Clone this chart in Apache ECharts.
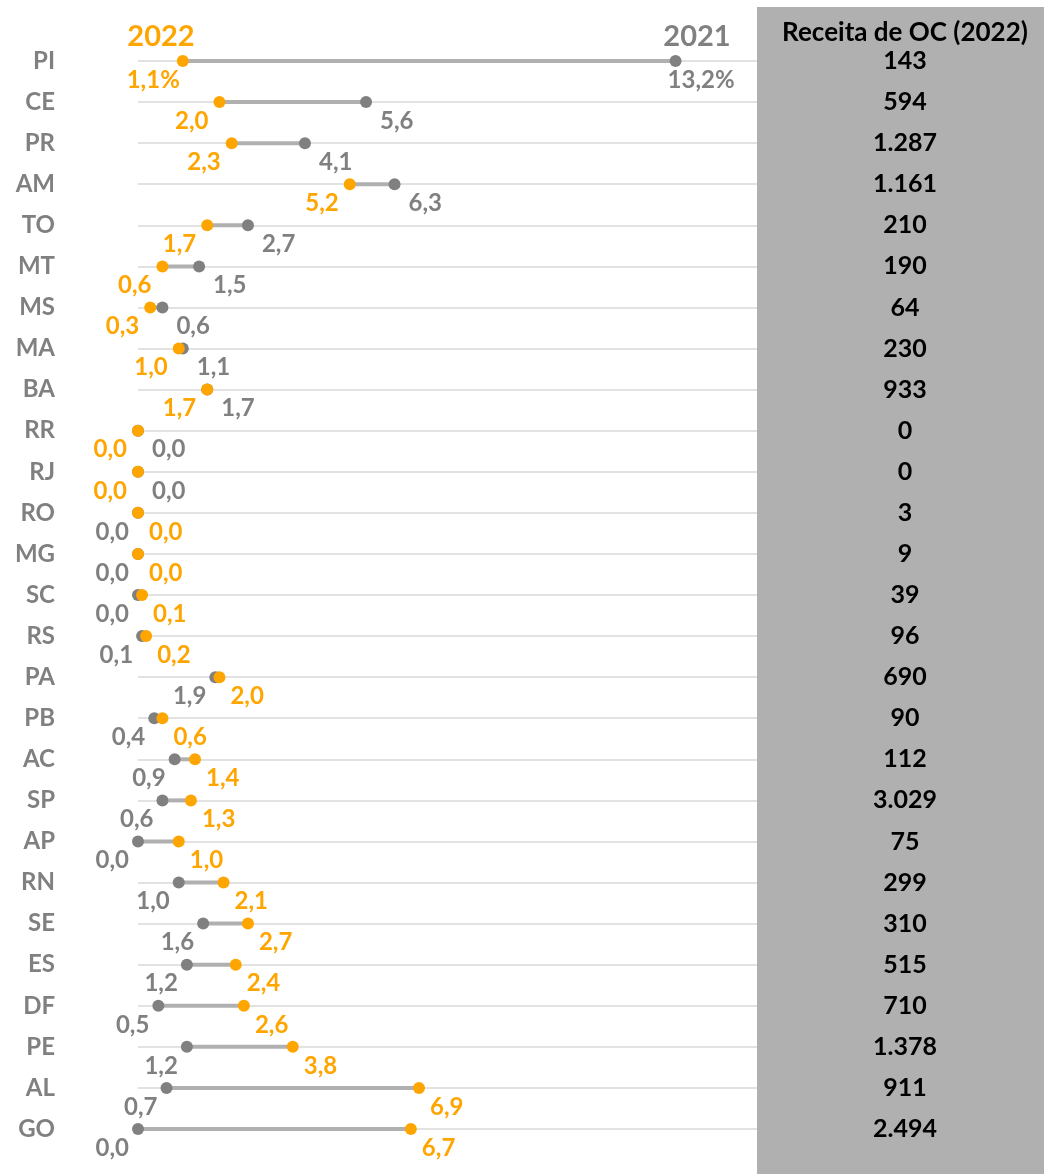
<!DOCTYPE html>
<html>
<head>
    <meta charset="utf-8">
    <title></title>
    <style type="text/css">
        body { margin: 0; background: #fff; }
    </style>
</head>
<body>
<div id="main" style="width: 1044px;height:1174px;"></div>

<script type="text/javascript" src="https://cdn.jsdelivr.net/npm/echarts@6/dist/echarts.min.js"></script>
<script type="text/javascript">
    var estados = ['PI','CE','PR','AM','TO','MT','MS','MA','BA','RR','RJ','RO','MG','SC','RS','PA','PB','AC','SP','AP','RN','SE','ES','DF','PE','AL','GO'];
    var v2022 = [1.1, 2.0, 2.3, 5.2, 1.7, 0.6, 0.3, 1.0, 1.7, 0.0, 0.0, 0.0, 0.0, 0.1, 0.2, 2.0, 0.6, 1.4, 1.3, 1.0, 2.1, 2.7, 2.4, 2.6, 3.8, 6.9, 6.7];
    var v2021 = [13.2, 5.6, 4.1, 6.3, 2.7, 1.5, 0.6, 1.1, 1.7, 0.0, 0.0, 0.0, 0.0, 0.0, 0.1, 1.9, 0.4, 0.9, 0.6, 0.0, 1.0, 1.6, 1.2, 0.5, 1.2, 0.7, 0.0];
    var receita = ['143','594','1.287','1.161','210','190','64','230','933','0','0','3','9','39','96','690','90','112','3.029','75','299','310','515','710','1.378','911','2.494'];
    // os primeiros estados da lista tiveram queda (2022 abaixo de 2021)
    var nQueda = 11;

    var LARANJA = '#FFA500';
    var CINZA = '#808080';
    var FONTE = 'Lato, "Open Sans", sans-serif';

    function fmt(v, i) {
        return v.toFixed(1).replace('.', ',') + (i === 0 ? '%' : '');
    }

    var linhas = [];
    var pts21 = [];
    var pts22 = [];
    for (var i = 0; i < estados.length; i++) {
        linhas.push([v2021[i], v2022[i], i]);
        var queda = i < nQueda;
        var lab21 = { position: queda ? 'right' : 'left', distance: queda ? 8 : 3 };
        var lab22 = { position: queda ? 'left' : 'right', distance: 5 };
        if (i === 0) {
            lab21.distance = -14;
            lab22.distance = -3;
        }
        pts21.push({ value: [v2021[i], i], label: lab21 });
        pts22.push({ value: [v2022[i], i], label: lab22 });
    }

    var myChart = echarts.init(document.getElementById('main'));

    myChart.setOption({
        animation: false,
        textStyle: { fontFamily: FONTE },
        grid: { left: 138, right: 287, top: 61, bottom: 45 },
        graphic: [
            { type: 'rect', z: -10, shape: { x: 757, y: 7, width: 287, height: 1167 }, style: { fill: '#b0b0b0' } },
            { type: 'text', x: 905, y: 33, style: { text: 'Receita de OC (2022)', fill: '#000', font: 'bold 26px ' + FONTE, textAlign: 'center', textVerticalAlign: 'middle' } },
            { type: 'text', x: 161, y: 37, style: { text: '2022', fill: LARANJA, font: 'bold 29px ' + FONTE, textAlign: 'center', textVerticalAlign: 'middle' } },
            { type: 'text', x: 697, y: 37, style: { text: '2021', fill: CINZA, font: 'bold 29px ' + FONTE, textAlign: 'center', textVerticalAlign: 'middle' } }
        ],
        xAxis: {
            type: 'value',
            min: 0,
            max: 15.2,
            show: false
        },
        yAxis: [{
            type: 'category',
            data: estados,
            inverse: true,
            boundaryGap: false,
            axisLine: { show: false },
            axisTick: { show: false },
            splitLine: { show: true, lineStyle: { color: '#d9d9d9', width: 1.5 } },
            axisLabel: { margin: 83, color: CINZA, fontWeight: 'bold', fontSize: 24, fontFamily: FONTE }
        }, {
            type: 'category',
            data: receita,
            inverse: true,
            boundaryGap: false,
            position: 'right',
            axisLine: { show: false },
            axisTick: { show: false },
            splitLine: { show: false },
            axisLabel: { margin: 148, align: 'center', color: '#000', fontWeight: 'bold', fontSize: 25, fontFamily: FONTE }
        }],
        series: [{
            type: 'custom',
            data: linhas,
            encode: { x: [0, 1], y: 2 },
            renderItem: function (params, api) {
                var a = api.coord([api.value(0), api.value(2)]);
                var b = api.coord([api.value(1), api.value(2)]);
                return {
                    type: 'line',
                    shape: { x1: a[0], y1: a[1], x2: b[0], y2: b[1] },
                    style: { stroke: '#b0b0b0', lineWidth: 4 }
                };
            }
        }, {
            name: '2021',
            type: 'scatter',
            symbolSize: 12,
            itemStyle: { color: CINZA, opacity: 1 },
            label: {
                show: true,
                offset: [0, 19],
                color: CINZA,
                fontWeight: 'bold',
                fontSize: 24,
                fontFamily: FONTE,
                formatter: function (p) { return fmt(p.value[0], p.dataIndex); }
            },
            data: pts21
        }, {
            name: '2022',
            type: 'scatter',
            symbolSize: 12,
            itemStyle: { color: LARANJA, opacity: 1 },
            label: {
                show: true,
                offset: [0, 19],
                color: LARANJA,
                fontWeight: 'bold',
                fontSize: 24,
                fontFamily: FONTE,
                formatter: function (p) { return fmt(p.value[0], p.dataIndex); }
            },
            data: pts22
        }]
    });
</script>

</body>
</html>
